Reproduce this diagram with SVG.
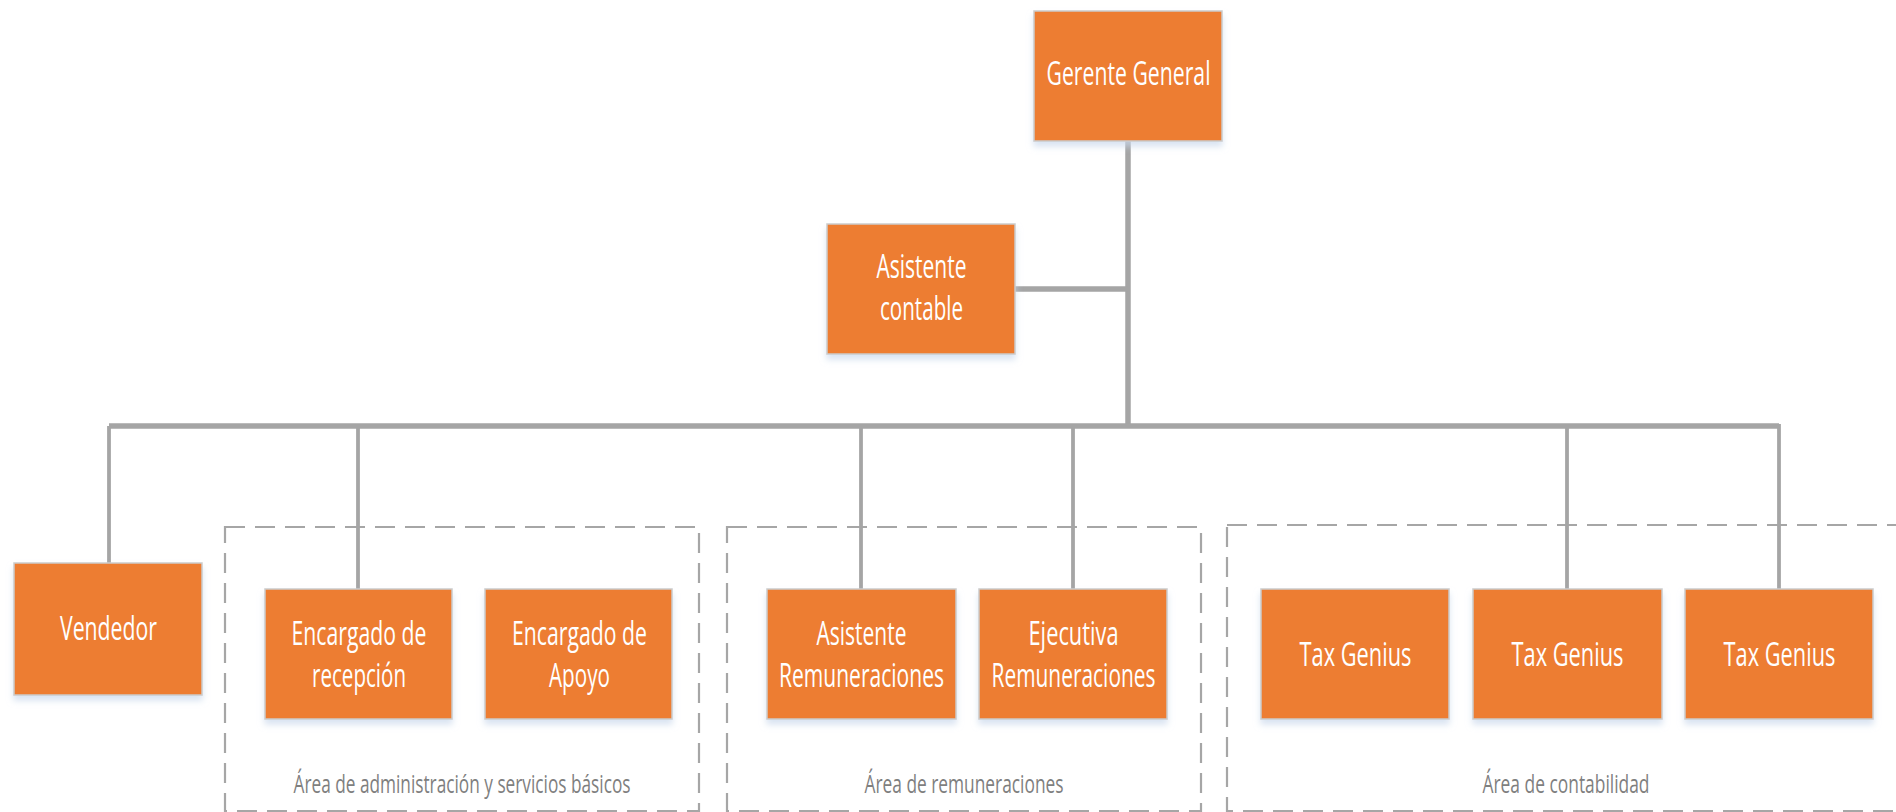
<svg xmlns="http://www.w3.org/2000/svg" width="1896" height="812" viewBox="0 0 1896 812">
  <style>
    .box { fill: #ED7D31; stroke: #CBCBCB; stroke-width: 1.5; filter: url(#soft); }
    .lbl { fill: #FFFFFF; font-family: "Open Sans", "Liberation Sans", sans-serif; font-size: 32px; text-anchor: middle; }
    .area { fill: none; stroke: #A6A6A6; stroke-width: 2.2; stroke-dasharray: 20 10; }
    .cap { fill: #7F7F7F; font-family: "Open Sans", "Liberation Sans", sans-serif; font-size: 25px; text-anchor: middle; }
    .bus { stroke: #A5A5A5; stroke-width: 5.5; fill: none; stroke-linejoin: round; }
    .drop { stroke: #A5A5A5; stroke-width: 3.8; fill: none; }
  </style>
  <defs>
    <filter id="soft" x="-10%" y="-10%" width="120%" height="130%">
      <feDropShadow dx="0" dy="5" stdDeviation="3" flood-color="#C9D8EC" flood-opacity="0.7"/>
    </filter>
  </defs>
  <rect width="1896" height="812" fill="#FFFFFF"/>

  <!-- dashed area frames; all labels use a condensed (x-scaled) face -->
  <g id="areas">
    <g id="area-admin">
      <rect class="area" x="225" y="527" width="474" height="284"/>
      <text class="cap" transform="translate(462 793) scale(0.66 1)" textLength="510.6" lengthAdjust="spacingAndGlyphs">Área de administración y servicios básicos</text>
    </g>
    <g id="area-remun">
      <rect class="area" x="727" y="527" width="474" height="284"/>
      <text class="cap" transform="translate(964 793) scale(0.66 1)" textLength="301.5" lengthAdjust="spacingAndGlyphs">Área de remuneraciones</text>
    </g>
    <g id="area-conta">
      <rect class="area" x="1227" y="525" width="700" height="286"/>
      <text class="cap" transform="translate(1566 793) scale(0.66 1)" textLength="253" lengthAdjust="spacingAndGlyphs">Área de contabilidad</text>
    </g>
  </g>

  <!-- reporting lines -->
  <g id="connectors">
    <line class="bus" x1="1128" y1="141" x2="1128" y2="426"/>
    <line class="bus" x1="1015" y1="289" x2="1128" y2="289"/>
    <path class="bus" d="M109 426 H1779"/>
    <line class="drop" x1="109" y1="426" x2="109" y2="563"/>
    <line class="drop" x1="358" y1="426" x2="358" y2="589"/>
    <line class="drop" x1="861" y1="426" x2="861" y2="589"/>
    <line class="drop" x1="1073" y1="426" x2="1073" y2="589"/>
    <line class="drop" x1="1567" y1="426" x2="1567" y2="589"/>
    <line class="drop" x1="1779" y1="424" x2="1779" y2="589"/>
  </g>

  <g id="gerente-general">
    <rect class="box" x="1034" y="11" width="188" height="130"/>
    <text class="lbl" transform="translate(1128.5 85) scale(0.66 1)" textLength="248.5" lengthAdjust="spacingAndGlyphs">Gerente General</text>
  </g>

  <g id="asistente-contable">
    <rect class="box" x="827" y="224" width="188" height="130"/>
    <text class="lbl" transform="translate(921.5 278) scale(0.66 1)" textLength="136.4" lengthAdjust="spacingAndGlyphs">Asistente</text>
    <text class="lbl" transform="translate(921.5 320) scale(0.66 1)" textLength="125.8" lengthAdjust="spacingAndGlyphs">contable</text>
  </g>

  <g id="vendedor">
    <rect class="box" x="14" y="563" width="188" height="132"/>
    <text class="lbl" transform="translate(108.5 640) scale(0.66 1)" textLength="147" lengthAdjust="spacingAndGlyphs">Vendedor</text>
  </g>

  <g id="encargado-recepcion">
    <rect class="box" x="265" y="589" width="187" height="130"/>
    <text class="lbl" transform="translate(359 645) scale(0.66 1)" textLength="204.5" lengthAdjust="spacingAndGlyphs">Encargado de</text>
    <text class="lbl" transform="translate(359 687) scale(0.66 1)" textLength="142.4" lengthAdjust="spacingAndGlyphs">recepción</text>
  </g>

  <g id="encargado-apoyo">
    <rect class="box" x="485" y="589" width="187" height="130"/>
    <text class="lbl" transform="translate(579.5 645) scale(0.66 1)" textLength="204.5" lengthAdjust="spacingAndGlyphs">Encargado de</text>
    <text class="lbl" transform="translate(579.5 687) scale(0.66 1)" textLength="92.4" lengthAdjust="spacingAndGlyphs">Apoyo</text>
  </g>

  <g id="asistente-remuneraciones">
    <rect class="box" x="767" y="589" width="189" height="130"/>
    <text class="lbl" transform="translate(861.5 645) scale(0.66 1)" textLength="136.4" lengthAdjust="spacingAndGlyphs">Asistente</text>
    <text class="lbl" transform="translate(861.5 687) scale(0.66 1)" textLength="250" lengthAdjust="spacingAndGlyphs">Remuneraciones</text>
  </g>

  <g id="ejecutiva-remuneraciones">
    <rect class="box" x="979" y="589" width="188" height="130"/>
    <text class="lbl" transform="translate(1073.5 645) scale(0.66 1)" textLength="136.4" lengthAdjust="spacingAndGlyphs">Ejecutiva</text>
    <text class="lbl" transform="translate(1073.5 687) scale(0.66 1)" textLength="248.5" lengthAdjust="spacingAndGlyphs">Remuneraciones</text>
  </g>

  <g id="tax-genius-1">
    <rect class="box" x="1261" y="589" width="188" height="130"/>
    <text class="lbl" transform="translate(1355.5 666) scale(0.66 1)" textLength="169.7" lengthAdjust="spacingAndGlyphs">Tax Genius</text>
  </g>

  <g id="tax-genius-2">
    <rect class="box" x="1473" y="589" width="189" height="130"/>
    <text class="lbl" transform="translate(1567.5 666) scale(0.66 1)" textLength="169.7" lengthAdjust="spacingAndGlyphs">Tax Genius</text>
  </g>

  <g id="tax-genius-3">
    <rect class="box" x="1685" y="589" width="188" height="130"/>
    <text class="lbl" transform="translate(1779.5 666) scale(0.66 1)" textLength="169.7" lengthAdjust="spacingAndGlyphs">Tax Genius</text>
  </g>
</svg>
